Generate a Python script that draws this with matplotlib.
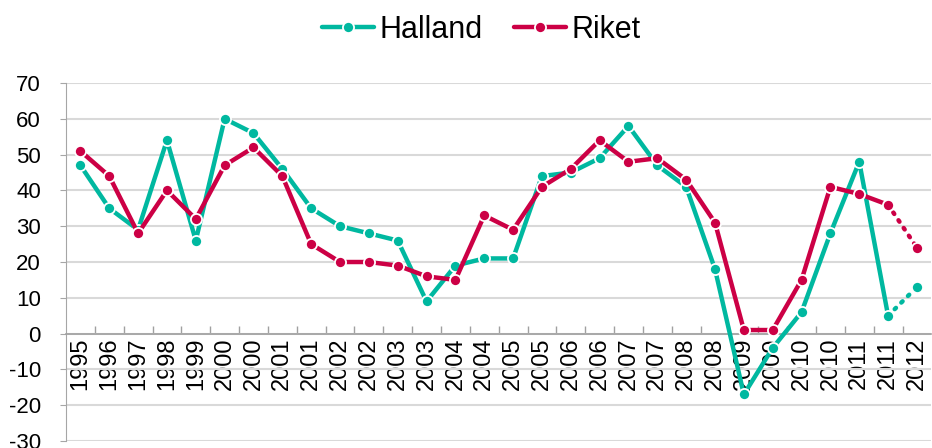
import numpy as np
import matplotlib.pyplot as plt
from matplotlib.ticker import MultipleLocator, FixedLocator

# etiquetas del eje x (halvår, därför dubbla år)
perioder = ["1995", "1996", "1997", "1998", "1999", "2000", "2000", "2001", "2001",
            "2002", "2002", "2003", "2003", "2004", "2004", "2005", "2005", "2006",
            "2006", "2007", "2007", "2008", "2008", "2009", "2009", "2010", "2010",
            "2011", "2011", "2012"]

halland = [47, 35, 29, 54, 26, 60, 56, 46, 35, 30, 28, 26, 9, 19, 21, 21, 44, 45,
           49, 58, 47, 41, 18, -17, -4, 6, 28, 48, 5, 13]
riket = [51, 44, 28, 40, 32, 47, 52, 44, 25, 20, 20, 19, 16, 15, 33, 29, 41, 46,
         54, 48, 49, 43, 31, 1, 1, 15, 41, 39, 36, 24]

teal = "#00B8A0"
rod = "#CC0045"

plt.rcParams["font.family"] = ["Liberation Sans", "DejaVu Sans"]
plt.rcParams["axes.unicode_minus"] = False

fig = plt.figure(figsize=(9.32, 4.48), dpi=100)
ax = fig.add_axes([0.0708, 0.0156, 0.9285, 0.7991])

x = np.arange(len(perioder))
serier = [("Halland", halland, teal, 3), ("Riket", riket, rod, 4)]
for namn, y, farg, z in serier:
    # heldragen linje till sista punkten, prickad sista biten
    ax.plot(x[:-1], y[:-1], color=farg, lw=3.2, marker="o", ms=8,
            markeredgecolor="white", markeredgewidth=1.3, label=namn,
            zorder=z, solid_capstyle="round")
    ax.plot(x[-2:], y[-2:], color=farg, lw=3.2, ls=(0, (0.4, 1.7)),
            dash_capstyle="round", zorder=z - 0.5)
    ax.plot(x[-1:], y[-1:], color=farg, ls="none", marker="o", ms=8,
            markeredgecolor="white", markeredgewidth=1.3, zorder=z)

ax.set_xlim(-0.5, len(perioder) - 0.5)
ax.set_ylim(-30, 70)
ax.yaxis.set_major_locator(MultipleLocator(10))
ax.grid(axis="y", color="#D9D9D9", lw=1.5)
ax.set_axisbelow(True)

for s in ["top", "right"]:
    ax.spines[s].set_visible(False)
ax.spines["left"].set_color("#A6A6A6")
ax.spines["bottom"].set_position(("data", 0))
ax.spines["bottom"].set_color("#A0A0A0")
ax.spines["bottom"].set_linewidth(1.2)

ax.set_xticks(x)
ax.set_xticklabels(perioder, rotation=90, fontsize=17, va="top")
ax.xaxis.set_minor_locator(FixedLocator(x[:-1] + 0.5))
ax.tick_params(axis="x", which="major", length=0, pad=3)
ax.tick_params(axis="x", which="minor", direction="in", length=6,
               color="#A0A0A0", width=1)
ax.tick_params(axis="y", labelsize=16, length=4, color="#A6A6A6", pad=14)

ax.legend(loc="lower center", bbox_to_anchor=(0.48, 1.03), ncol=2, frameon=False,
          fontsize=22, handlelength=1.7, handletextpad=0.2, columnspacing=1.0)

fig.savefig("out.png", dpi=100)
